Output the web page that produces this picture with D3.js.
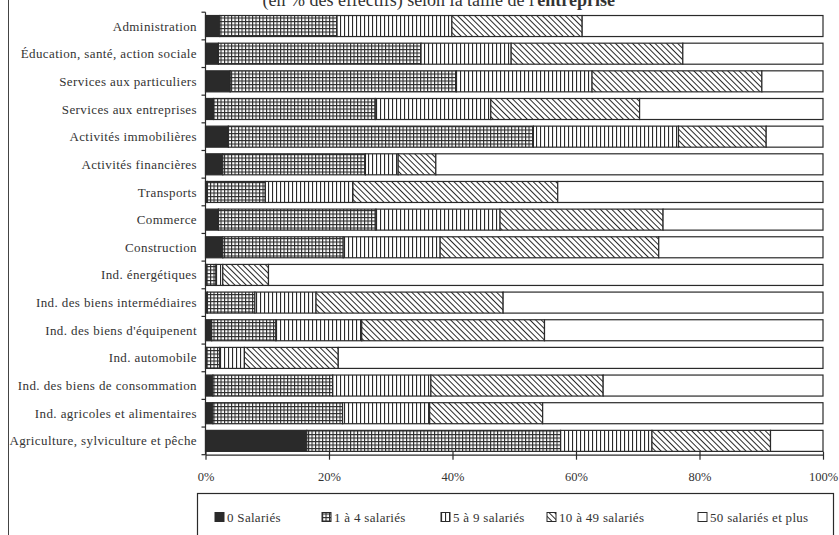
<!DOCTYPE html>
<html>
<head>
<meta charset="utf-8">
<script src="https://cdn.jsdelivr.net/npm/d3@7"></script>
<style>
  html, body { margin: 0; padding: 0; background: #fff; }
  svg { display: block; }
  text { font-family: "Liberation Serif", "DejaVu Serif", serif; fill: #333; }
</style>
</head>
<body>
<svg id="chart" width="839" height="535"></svg>
<script>
// Secteurs d'activité (de haut en bas)
const categories = [
  "Administration",
  "Éducation, santé, action sociale",
  "Services aux particuliers",
  "Services aux entreprises",
  "Activités immobilières",
  "Activités financières",
  "Transports",
  "Commerce",
  "Construction",
  "Ind. énergétiques",
  "Ind. des biens intermédiaires",
  "Ind. des biens d'équipenent",
  "Ind. automobile",
  "Ind. des biens de consommation",
  "Ind. agricoles et alimentaires",
  "Agriculture, sylviculture et pêche"
];

// Part (%) de chaque tranche de taille d'entreprise
const sal0    = [2.3, 2.1, 4.0, 1.3, 3.7, 2.8, 0.3, 2.1, 2.8, 0.2, 0.3, 1.0, 0.2, 1.2, 1.2, 16.4];
const sal1a4  = [19.0, 32.8, 36.6, 26.2, 49.4, 23.1, 9.4, 25.5, 19.5, 1.5, 7.7, 10.4, 2.1, 19.4, 21.0, 41.1];
const sal5a9  = [18.6, 14.6, 22.0, 18.7, 23.5, 5.3, 14.2, 20.1, 15.7, 1.1, 9.9, 13.9, 4.0, 15.9, 14.1, 14.8];
const sal10a49 = [21.1, 27.8, 27.5, 24.1, 14.2, 6.1, 33.2, 26.4, 35.4, 7.4, 30.3, 29.6, 15.2, 27.9, 18.3, 19.2];
const sal50p  = [39.0, 22.7, 9.9, 29.7, 9.2, 62.7, 43.0, 25.9, 26.6, 89.8, 51.8, 45.1, 78.5, 35.6, 45.4, 8.5];

const seriesNames = ["0 Salariés", "1 à 4 salariés", "5 à 9 salariés", "10 à 49 salariés", "50 salariés et plus"];
const tickValues = [0, 0.2, 0.4, 0.6, 0.8, 1];
const tickLabels = ["0%", "20%", "40%", "60%", "80%", "100%"];
const titleStart = "(en % des effectifs) selon la taille de l'";
const titleEnd = "entreprise";

const seriesValues = [sal0, sal1a4, sal5a9, sal10a49, sal50p];
const rows = categories.map((c, i) => {
  const r = { cat: c };
  seriesNames.forEach((s, k) => { r[s] = seriesValues[k][i]; });
  return r;
});

const ink = "#2a2a2a";
const svg = d3.select("#chart");

// Motifs de remplissage (noir, quadrillage, hachures verticales, hachures obliques, blanc)
const defs = svg.append("defs");
const grid = defs.append("pattern").attr("id", "p-grid")
  .attr("patternUnits", "userSpaceOnUse").attr("width", 3.5).attr("height", 3.5);
grid.append("rect").attr("width", 3.5).attr("height", 3.5).attr("fill", "#fff");
grid.append("rect").attr("x", 0).attr("y", 0).attr("width", 1.1).attr("height", 3.5).attr("fill", ink);
grid.append("rect").attr("x", 0).attr("y", 0).attr("width", 3.5).attr("height", 1.1).attr("fill", ink);

const vert = defs.append("pattern").attr("id", "p-vert")
  .attr("patternUnits", "userSpaceOnUse").attr("width", 4).attr("height", 4);
vert.append("rect").attr("width", 4).attr("height", 4).attr("fill", "#fff");
vert.append("rect").attr("x", 0).attr("y", 0).attr("width", 1.1).attr("height", 4).attr("fill", ink);

const diag = defs.append("pattern").attr("id", "p-diag")
  .attr("patternUnits", "userSpaceOnUse").attr("width", 4).attr("height", 4)
  .attr("patternTransform", "rotate(-45)");
diag.append("rect").attr("width", 4).attr("height", 4).attr("fill", "#fff");
diag.append("rect").attr("x", 0).attr("y", 0).attr("width", 1).attr("height", 4).attr("fill", ink);

const fills = [ink, "url(#p-grid)", "url(#p-vert)", "url(#p-diag)", "#fff"];

// Cadre gauche
svg.append("line").attr("x1", 8.5).attr("x2", 8.5).attr("y1", 0).attr("y2", 535)
  .attr("stroke", "#444").attr("stroke-width", 1);

// Titre (haut de page)
const title = svg.append("text").attr("x", 615).attr("y", 6)
  .attr("text-anchor", "end").style("font-size", "18px");
title.append("tspan").text(titleStart);
title.append("tspan").style("font-weight", "bold").text(titleEnd);

// Échelles
const x = d3.scaleLinear().domain([0, 1]).range([205.5, 823]);
const y = d3.scaleBand().domain(categories).range([12.2, 454.7])
  .paddingInner(0.24).paddingOuter(0.12);

const stack = d3.stack().keys(seriesNames).offset(d3.stackOffsetExpand);
const layers = stack(rows);

// Barres empilées
const g = svg.append("g");
layers.forEach((layer, k) => {
  g.append("g").selectAll("rect").data(layer).join("rect")
    .attr("x", d => x(d[0]))
    .attr("y", d => y(d.data.cat))
    .attr("width", d => Math.max(0, x(d[1]) - x(d[0])))
    .attr("height", y.bandwidth())
    .attr("fill", fills[k])
    .attr("stroke", ink)
    .attr("stroke-width", 1.2);
});

// Axe vertical avec graduations entre les catégories
const step = y.step();
svg.append("line").attr("x1", x(0)).attr("x2", x(0))
  .attr("y1", y.range()[0]).attr("y2", y.range()[1])
  .attr("stroke", ink).attr("stroke-width", 1.2);
const bounds = categories.map(c => y(c) - y.paddingInner() * step / 2);
bounds.push(y.range()[1]);
svg.append("g").selectAll("line").data(bounds).join("line")
  .attr("x1", x(0) - 4).attr("x2", x(0))
  .attr("y1", d => d).attr("y2", d => d)
  .attr("stroke", ink).attr("stroke-width", 1.2);

// Libellés des catégories
svg.append("g").selectAll("text").data(categories).join("text")
  .attr("x", 197)
  .attr("y", d => y(d) + y.bandwidth() / 2)
  .attr("dy", "0.35em")
  .attr("text-anchor", "end")
  .style("font-size", "13px")
  .style("letter-spacing", "0.4px")
  .text(d => d);

// Axe horizontal
const xAxis = d3.axisBottom(x).tickValues(tickValues)
  .tickFormat((d, i) => tickLabels[i]).tickSize(5).tickSizeOuter(0).tickPadding(12);
const ax = svg.append("g").attr("transform", `translate(0,${y.range()[1]})`).call(xAxis);
ax.select(".domain").attr("stroke", ink).attr("stroke-width", 1.2);
ax.selectAll(".tick line").attr("stroke", ink).attr("stroke-width", 1.2).attr("y1", -3);
ax.selectAll(".tick text").attr("font-family", null).style("font-size", "12.5px").attr("fill", "#333");

// Légende
const legendBox = { x: 197, y: 493, w: 636, h: 48 };
svg.append("rect").attr("x", legendBox.x + 0.5).attr("y", legendBox.y + 0.5)
  .attr("width", legendBox.w).attr("height", legendBox.h)
  .attr("fill", "#fff").attr("stroke", ink).attr("stroke-width", 1.2);
const legendX = [215, 322, 441, 547, 698];
const legend = svg.append("g").selectAll("g").data(seriesNames).join("g")
  .attr("transform", (d, i) => `translate(${legendX[i]},517)`);
legend.append("rect").attr("x", 0).attr("y", -4.5).attr("width", 9).attr("height", 9)
  .attr("fill", (d, i) => fills[i]).attr("stroke", ink).attr("stroke-width", 1);
legend.append("text").attr("x", 12).attr("dy", "0.35em")
  .style("font-size", "13px").style("letter-spacing", "0.3px").text(d => d);
</script>
</body>
</html>
